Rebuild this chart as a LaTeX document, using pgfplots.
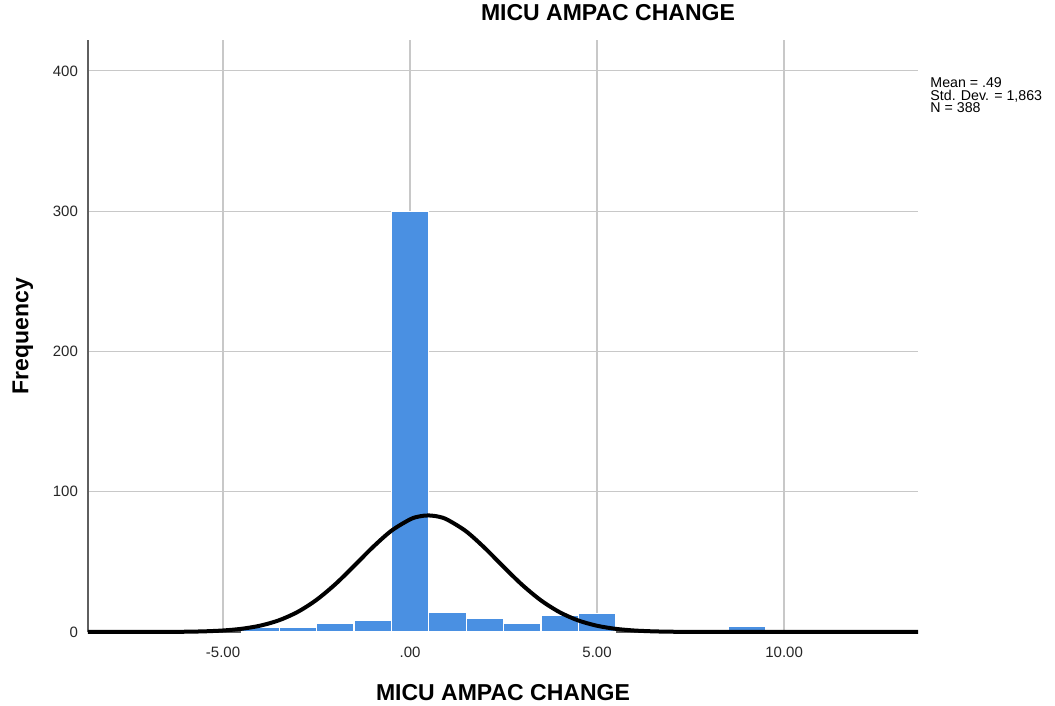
\documentclass[border=0pt]{standalone}
\usepackage{fontspec}
\setmainfont{Liberation Sans}
\usepackage{pgfplots}
\pgfplotsset{compat=1.18}
\definecolor{barblue}{RGB}{74,144,226}
\definecolor{gridgray}{RGB}{200,200,200}
\definecolor{axisgray}{RGB}{95,95,95}
\begin{document}
\begin{tikzpicture}
\useasboundingbox (-44pt,-37pt) rectangle (483.5pt,316pt);
\begin{axis}[
  at={(0,0)}, anchor=south west,
  scale only axis, width=415pt, height=296pt,
  xmin=-8.61, xmax=13.58, ymin=0, ymax=422,
  axis lines*=left,
  axis line style={draw=axisgray, line width=0.7pt},
  tick style={draw=none},
  xtick={-5,0,5,10}, xticklabels={-5.00,.00,5.00,10.00},
  ytick={0,100,200,300,400},
  /pgf/number format/assume math mode=true,
  tick label style={font=\fontsize{7.5}{9}\selectfont, text=black!85},
  xticklabel style={yshift=-4pt},
  yticklabel style={xshift=-1.5pt},
  grid=major,
  major grid style={draw=gridgray, line width=0.6pt},
  title={MICU AMPAC CHANGE},
  title style={font=\bfseries\fontsize{11.5}{13}\selectfont, at={(axis description cs:0.6265,1.0135)}, anchor=base},
  xlabel={MICU AMPAC CHANGE},
  xlabel style={font=\bfseries\fontsize{11.5}{13}\selectfont, at={(axis description cs:0.5,-0.1149)}, anchor=base},
  ylabel={Frequency},
  ylabel style={font=\bfseries\fontsize{11.5}{13}\selectfont, at={(axis description cs:-0.0717,0.5)}, anchor=base, rotate=0},
  clip=false,
]
\addplot[ybar, bar width=1, fill=barblue, draw=white, line width=0.6pt] coordinates {
  (-4,3) (-3,3) (-2,6) (-1,8) (0,300) (1,14) (2,10) (3,6) (4,12) (5,13) (9,4)
};
\addplot[black, line width=2pt, smooth, line join=round] coordinates {
  (-8.61,0) (-7.5,0.01) (-7,0.03) (-6.5,0.07) (-6,0.19) (-5.5,0.47) (-5,1.08) (-4.5,2.30) (-4,4.55)
  (-3.5,8.39) (-3,14.37) (-2.5,22.93) (-2,34.01) (-1.5,46.97) (-1,60.35) (-0.5,72.15)
  (0,80.27) (0.25,82.40) (0.49,83.09) (0.75,82.28) (1,80.03) (1.5,71.73) (2,59.83) (2.5,46.43)
  (3,33.53) (3.5,22.53) (4,14.09) (4.5,8.19) (5,4.44) (5.5,2.23) (6,1.05) (6.5,0.46)
  (7,0.19) (7.5,0.07) (8,0.02) (8.5,0.01) (9,0) (13.58,0)
};
\node[anchor=base west, inner sep=0pt, font=\fontsize{7.1}{9}\selectfont] at (axis description cs:1.0145,0.9206) {Mean = .49};
\node[anchor=base west, inner sep=0pt, font=\fontsize{7.1}{9}\selectfont] at (axis description cs:1.0145,0.8986) {Std. Dev. = 1,863};
\node[anchor=base west, inner sep=0pt, font=\fontsize{7.1}{9}\selectfont] at (axis description cs:1.0145,0.8767) {N = 388};
\end{axis}
\end{tikzpicture}
\end{document}
